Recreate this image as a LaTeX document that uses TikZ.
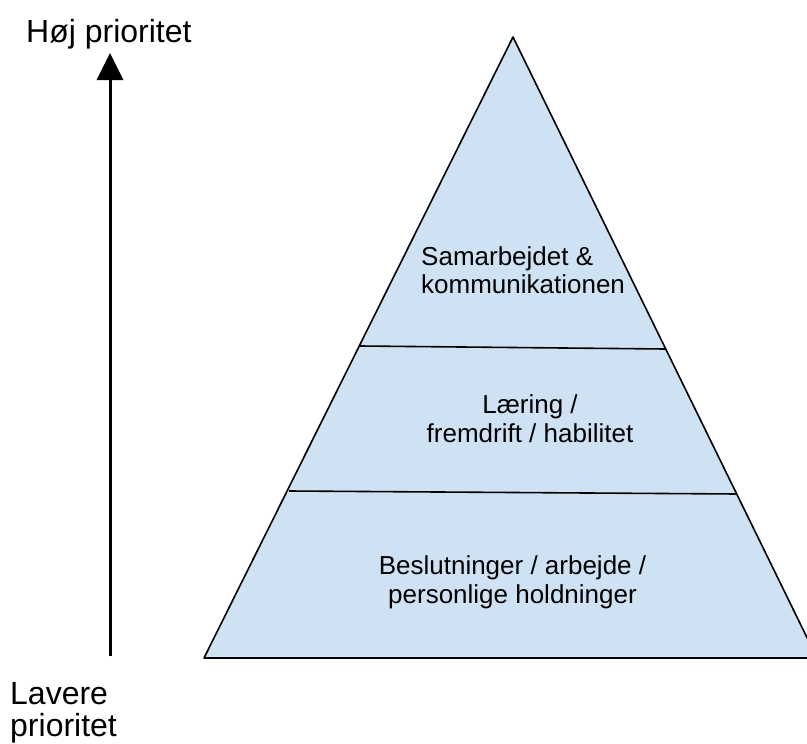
\documentclass[tikz,border=0pt]{standalone}
\usepackage{fontspec}
\setmainfont{Liberation Sans}
\usetikzlibrary{arrows.meta}
\definecolor{lagblue}{HTML}{CFE2F3}
\tikzset{%
  pyramid/.style = {
    x=1pt, y=-1pt,
    level/.style = {align=center, inner sep=0pt,
      font=\fontsize{26}{28.8}\selectfont},
    side/.style = {align=left, inner sep=0pt,
      font=\fontsize{32}{32}\selectfont},
    edge/.style = {draw, line width=1.6pt, line join=round}
  }
}
\begin{document}
\begin{tikzpicture}[pyramid]
  \useasboundingbox (0,0) rectangle (807,744);
  \clip (0,0) rectangle (807,744);
  % pyramid
  \coordinate (top) at (513,37);
  \coordinate (bl) at (204,658);
  \coordinate (br) at (817,658);
  \path[edge, fill=lagblue] (top) -- (bl) -- (br) -- cycle;
  \draw[edge] (360,346) -- (665,349);
  \draw[edge] (289,491) -- (737,494);
  \node[level, align=left, anchor=west, font=\fontsize{26}{28}\selectfont]
    (samarbejde) at (421,270.5) {Samarbejdet \&\\kommunikationen};
  \node[level] (laering) at (530,419) {Læring /\\fremdrift / habilitet};
  \node[level] (beslutning) at (512.5,582) {Beslutninger / arbejde /\\personlige holdninger};
  % priority arrow
  \coordinate (lav) at (110,656);
  \coordinate (hoj) at (110,53);
  \draw[line width=3pt, -{Triangle[length=27pt,width=26pt]}] (lav) -- (hoj);
  \node[side, anchor=base west] (hojtxt) at (26,42) {Høj prioritet};
  \node[side, anchor=west] (lavtxt) at (10,712.7) {Lavere\\prioritet};
\end{tikzpicture}
\end{document}
